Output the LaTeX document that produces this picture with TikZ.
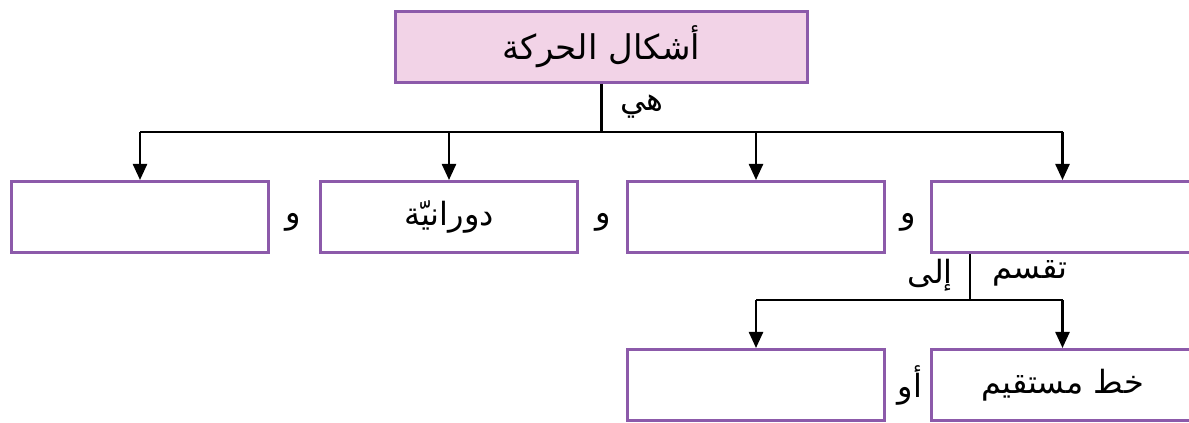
\documentclass[tikz,border=0pt]{standalone}
\usepackage{fontspec}
\newfontfamily\arabicfont[Script=Arabic]{DejaVu Sans}
\TeXXeTstate=1
\usetikzlibrary{positioning,arrows.meta}
\definecolor{boxpurple}{HTML}{8C5AAA}
\definecolor{boxpink}{HTML}{F2D3E7}

\begin{document}
\begin{tikzpicture}[
  frame/.style={draw=boxpurple,line width=1.5pt,minimum width=128.5pt,minimum height=35.5pt,inner sep=0pt,font=\arabicfont\fontsize{16}{18}\selectfont},
  head/.style={frame,fill=boxpink,minimum width=206pt,font=\arabicfont\fontsize{17}{19}\selectfont},
  edgebox/.style={frame,minimum width=131pt},
  word/.style={inner sep=1pt,font=\arabicfont\fontsize{16}{18}\selectfont},
  link/.style={line width=1.2pt},
  arr/.style={-{Triangle[length=8pt,width=7pt]},line width=1.2pt}
]
\useasboundingbox (0,0) rectangle (594.5pt,211.5pt);
\node[head] (forms) at (300.75pt,188pt) {\beginR أشكال الحركة\endR};
\node[frame] (b1) at (70pt,103pt) {};
\node[frame,right=24.5pt of b1] (b2) {\beginR دورانيّة\endR};
\node[frame,right=23.5pt of b2] (b3) {};
\node[edgebox,right=22pt of b3] (b4) {};
\node[frame,below=47pt of b3] (b5) {};
\node[edgebox,below=47pt of b4] (b6) {\beginR خط مستقيم\endR};
% first level
\coordinate (bus) at (0,145.5pt);
\draw[link] (forms.south) -- (forms.south |- bus);
\draw[link] (b1.north |- bus) -- (b4.north |- bus);
\foreach \b in {b1,b2,b3,b4}
  \draw[arr] (\b.north |- bus) -- (\b.north);
% second level
\coordinate (split) at (485pt,61.5pt);
\draw[link] (split |- b4.south) -- (split);
\draw[link] (b5.north |- split) -- (b6.north |- split);
\foreach \b in {b5,b6}
  \draw[arr] (\b.north |- split) -- (\b.north);
% labels
\node[word] (hi) at (321pt,158pt) {\beginR هي\endR};
\node[word] (wa1) at (146.5pt,100.5pt) {\beginR و\endR};
\node[word] (wa2) at (301.5pt,100.5pt) {\beginR و\endR};
\node[word] (wa3) at (454pt,100.5pt) {\beginR و\endR};
\node[word] (ila) at (465pt,74pt) {\beginR إلى\endR};
\node[word] (divide) at (515pt,75pt) {\beginR تقسم\endR};
\node[word] (aw) at (455pt,19pt) {\beginR أو\endR};
\end{tikzpicture}
\end{document}
